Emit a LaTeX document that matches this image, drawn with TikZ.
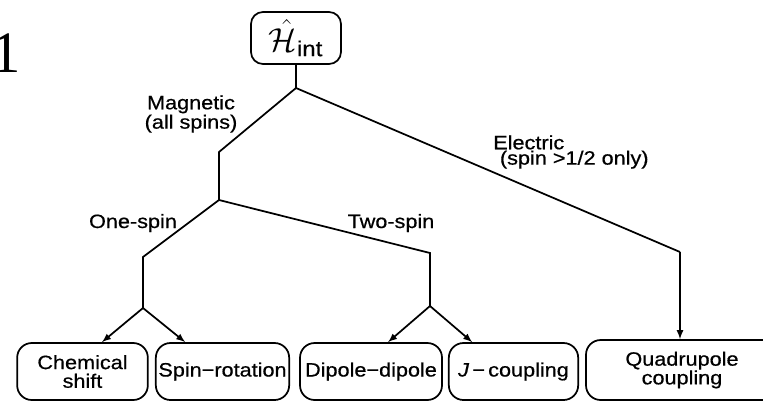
\documentclass[tikz,border=0pt]{standalone}
\usepackage{amsmath}
\usepackage{fontspec}
\setmainfont[FakeStretch=1.12,FakeBold=0.6]{Liberation Sans}
\newfontfamily\pagefont{Liberation Serif}
\usetikzlibrary{arrows.meta}

\tikzset{
  box/.style={draw, line width=1.3pt, rounded corners=11pt, minimum height=42.75pt, inner sep=0pt, align=center, font=\fontsize{14.5}{14}\selectfont},
  lbl/.style={inner sep=0pt, align=center, font=\fontsize{14.5}{11.5}\selectfont},
  link/.style={line width=1.3pt},
}

\begin{document}
\begin{tikzpicture}[x=0.75pt,y=-0.75pt]
\useasboundingbox (0,0) rectangle (763,401);

%cut-off figure number
\node[anchor=base west, inner sep=0pt, font=\pagefont\fontsize{44}{44}\selectfont] (fignum) at (-9,72) {1};

%boxes
\node[box, rounded corners=9pt, minimum width=67.5pt, minimum height=39pt, font=\fontsize{23}{26}\selectfont] (top) at (296,38) {$\hat{\mathcal{H}}_{\text{int}}$};
\node[box, minimum width=98pt] (chem) at (82.5,371.5) {Chemical\\shift};
\node[box, minimum width=100pt] (spinrot) at (222.5,371.5) {Spin−rotation};
\node[box, minimum width=106.5pt] (dip) at (371,371.5) {Dipole−dipole};
\node[box, minimum width=97pt] (jcoup) at (513.5,371.5) {\textit{J}\,−\,coupling};
\node[box, minimum width=144pt, minimum height=45pt] (quad) at (682,370) {Quadrupole\\coupling};

%branch points
\coordinate (split) at (296,88);
\coordinate (mag) at (219,152);
\coordinate (magsplit) at (219,200);
\coordinate (one) at (143,257);
\coordinate (onesplit) at (143,308);
\coordinate (two) at (430,253);
\coordinate (twosplit) at (430,306);
\coordinate (elec) at (680,252);

%lines
\draw[link] (top) -- (split);
\draw[link] (split) -- (mag) -- (magsplit) -- (one) -- (onesplit);
\draw[link] (magsplit) -- (two) -- (twosplit);
\draw[link] (split) -- (elec);

%arrows
\draw[link,-latex] (onesplit) -- ([xshift=14.6pt]chem.north);
\draw[link,-latex] (onesplit) -- ([xshift=-28pt]spinrot.north);
\draw[link,-latex] (twosplit) -- ([xshift=12.8pt]dip.north);
\draw[link,-latex] (twosplit) -- ([xshift=-31pt]jcoup.north);
\draw[link,-latex] (elec) -- (elec |- quad.north);

%labels
\node[lbl, anchor=north] (maglbl) at (191,95) {Magnetic\\(all spins)};
\node[lbl, anchor=north west, align=left] (eleclbl) at (493,135) {Electric\\\hspace*{5pt}(spin >1/2 only)};
\node[lbl, anchor=base] (onelbl) at (133,228) {One-spin};
\node[lbl, anchor=base] (twolbl) at (391,228) {Two-spin};
\end{tikzpicture}
\end{document}
